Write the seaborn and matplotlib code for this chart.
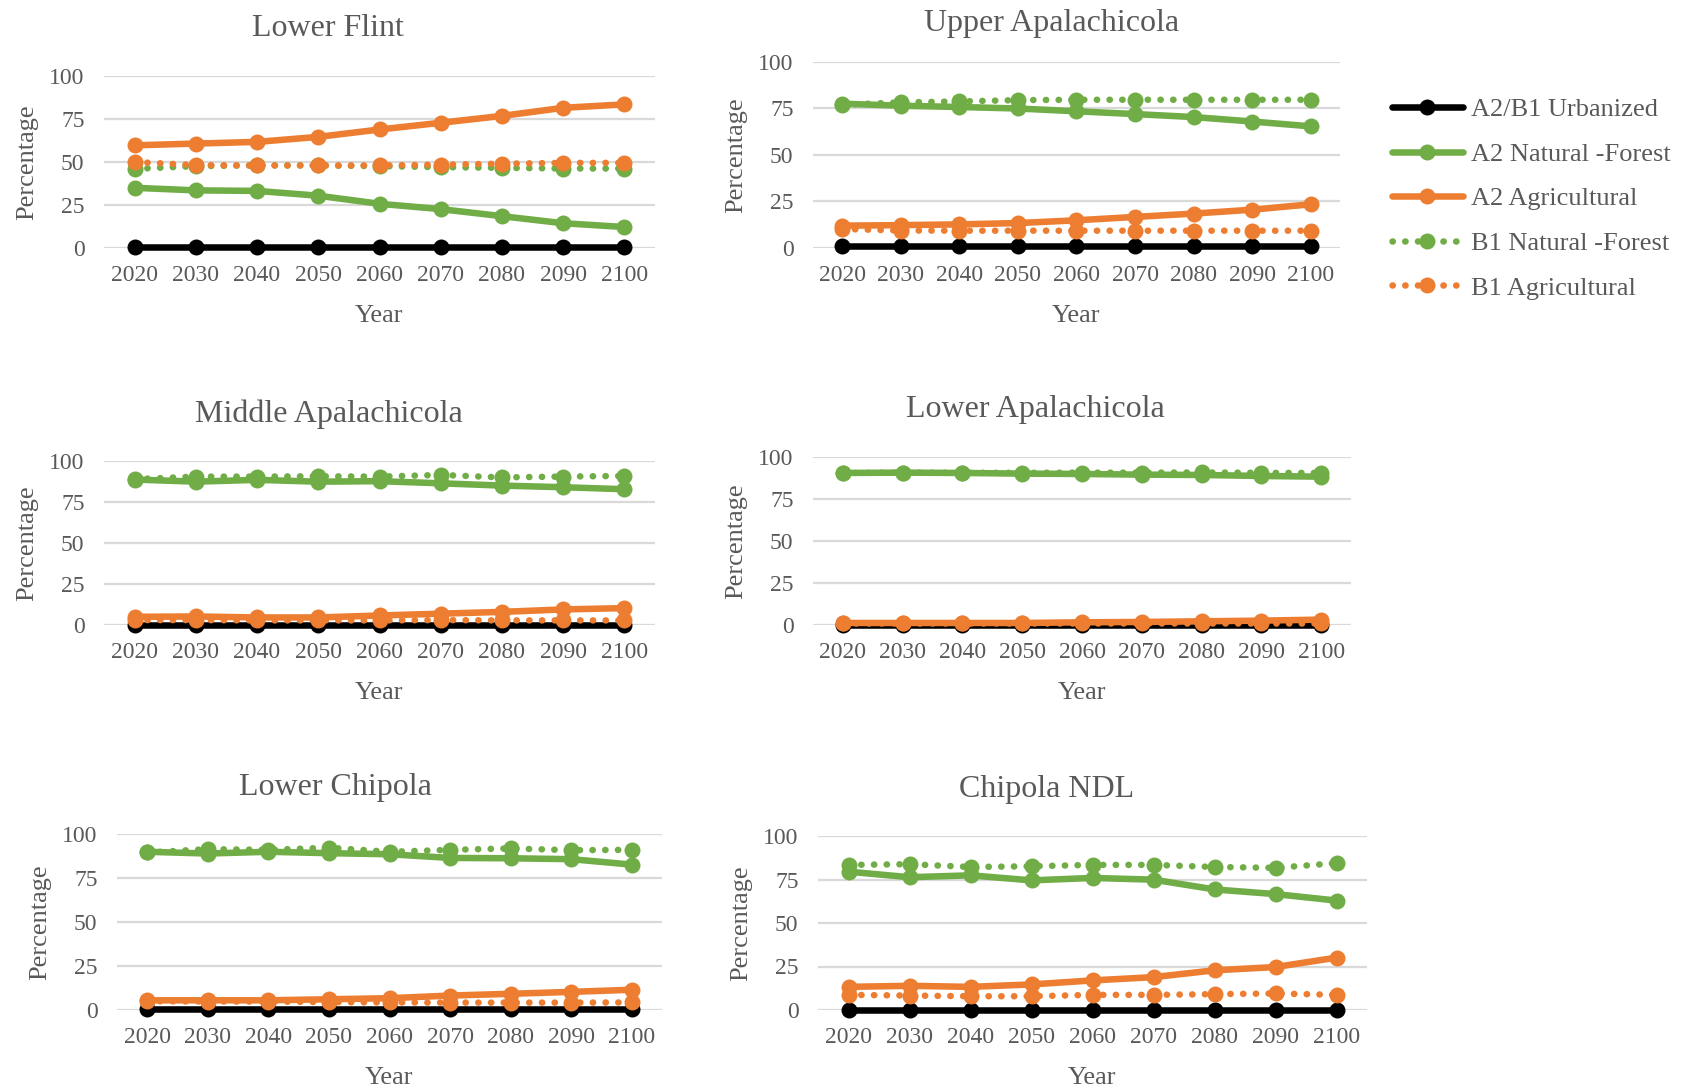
import matplotlib
matplotlib.use("Agg")
import matplotlib.pyplot as plt
import seaborn as sns
import pandas as pd

sns.set_theme(style="white")
plt.rcParams["font.family"] = ["Liberation Serif", "DejaVu Serif"]

years = [2020, 2030, 2040, 2050, 2060, 2070, 2080, 2090, 2100]
year_labels = [str(y) for y in years]
yticks = [0, 25, 50, 75, 100]

series_names = ["A2/B1 Urbanized", "A2 Natural -Forest", "A2 Agricultural",
                "B1 Natural -Forest", "B1 Agricultural"]

# Lower Flint
lf_urban = [0.5, 0.5, 0.5, 0.5, 0.5, 0.5, 0.5, 0.5, 0.5]
lf_a2_forest = [35.0, 33.5, 33.2, 30.4, 25.7, 22.6, 18.5, 14.4, 12.2]
lf_a2_agri = [59.7, 60.7, 61.7, 64.6, 68.9, 72.8, 76.8, 81.5, 83.5]
lf_b1_forest = [46.0, 47.6, 48.0, 48.0, 47.6, 47.0, 46.6, 46.2, 46.2]
lf_b1_agri = [50.0, 48.2, 48.0, 48.0, 48.0, 48.5, 49.0, 49.5, 49.5]

# Upper Apalachicola
ua_urban = [1.0, 1.0, 1.0, 1.0, 1.0, 1.0, 1.0, 1.0, 1.0]
ua_a2_forest = [77.6, 76.5, 75.8, 75.0, 73.5, 72.0, 70.4, 68.0, 65.4]
ua_a2_agri = [12.0, 12.3, 12.7, 13.4, 14.9, 16.7, 18.5, 20.6, 23.5]
ua_b1_forest = [77.0, 78.3, 78.8, 79.5, 79.7, 79.7, 79.7, 79.7, 79.7]
ua_b1_agri = [10.2, 9.4, 9.3, 9.3, 9.3, 9.3, 9.3, 9.3, 9.3]

# Middle Apalachicola
ma_urban = [0.2, 0.2, 0.2, 0.2, 0.2, 0.2, 0.2, 0.2, 0.2]
ma_a2_forest = [88.7, 87.4, 88.5, 87.4, 87.7, 86.4, 85.0, 84.0, 82.8]
ma_a2_agri = [5.0, 5.2, 4.6, 4.6, 5.8, 6.9, 8.0, 9.5, 10.3]
ma_b1_forest = [88.9, 90.5, 90.5, 90.7, 90.5, 91.5, 90.0, 90.5, 90.9]
ma_b1_agri = [3.0, 3.0, 2.8, 2.8, 2.8, 3.0, 2.8, 2.8, 2.8]

# Lower Apalachicola
la_urban = [0.2, 0.2, 0.2, 0.2, 0.2, 0.2, 0.2, 0.2, 0.2]
la_a2_forest = [90.5, 90.7, 90.5, 90.1, 89.9, 89.5, 89.3, 88.7, 88.3]
la_a2_agri = [1.2, 1.2, 1.2, 1.2, 1.6, 1.8, 2.2, 2.6, 3.2]
la_b1_forest = [90.5, 90.7, 90.6, 90.6, 90.7, 90.7, 90.8, 90.6, 90.5]
la_b1_agri = [1.0, 1.0, 1.0, 1.0, 1.0, 1.0, 1.0, 1.0, 1.0]

# Lower Chipola
lc_urban = [0.5, 0.5, 0.5, 0.5, 0.5, 0.5, 0.5, 0.5, 0.5]
lc_a2_forest = [89.9, 88.9, 89.9, 89.1, 88.5, 86.4, 86.2, 85.7, 82.6]
lc_a2_agri = [5.5, 5.5, 5.5, 6.1, 6.7, 8.2, 9.2, 10.3, 11.5]
lc_b1_forest = [89.5, 91.4, 91.0, 92.2, 89.9, 91.0, 91.8, 90.8, 91.0]
lc_b1_agri = [5.0, 4.8, 4.8, 4.5, 4.3, 4.2, 4.2, 4.2, 4.3]

# Chipola NDL
cn_urban = [0.0, 0.0, 0.0, 0.0, 0.0, 0.0, 0.0, 0.0, 0.0]
cn_a2_forest = [79.5, 76.3, 77.4, 74.5, 75.9, 74.9, 69.3, 66.6, 62.9]
cn_a2_agri = [13.3, 13.9, 13.3, 14.7, 17.0, 18.9, 22.8, 24.7, 30.1]
cn_b1_forest = [83.4, 83.8, 82.2, 82.6, 83.4, 83.4, 82.2, 81.7, 84.4]
cn_b1_agri = [8.7, 8.3, 7.9, 7.9, 8.7, 8.7, 9.1, 9.5, 8.7]

panels = [
    ("Lower Flint", [lf_urban, lf_a2_forest, lf_a2_agri, lf_b1_forest, lf_b1_agri]),
    ("Upper Apalachicola", [ua_urban, ua_a2_forest, ua_a2_agri, ua_b1_forest, ua_b1_agri]),
    ("Middle Apalachicola", [ma_urban, ma_a2_forest, ma_a2_agri, ma_b1_forest, ma_b1_agri]),
    ("Lower Apalachicola", [la_urban, la_a2_forest, la_a2_agri, la_b1_forest, la_b1_agri]),
    ("Lower Chipola", [lc_urban, lc_a2_forest, lc_a2_agri, lc_b1_forest, lc_b1_agri]),
    ("Chipola NDL", [cn_urban, cn_a2_forest, cn_a2_agri, cn_b1_forest, cn_b1_agri]),
]

colors = ["#000000", "#70AD47", "#ED7D31", "#70AD47", "#ED7D31"]
dotted = [False, False, False, True, True]

TEXT = "#595959"
GRID = "#D9D9D9"

W, H = 1688, 1089
# axes boxes in pixels: left, right, top(=100 line), bottom(=0 line)
boxes = [
    (104, 655, 76, 248),
    (813, 1340, 62, 248),
    (104, 655, 461, 625),
    (813, 1351, 457, 625),
    (117, 662, 834, 1010),
    (818, 1367, 836, 1010),
]
# chart titles are centred over each whole chart block (pixels)
title_pos = [(328, 29), (1052, 23), (329, 414), (1035, 410), (335, 788), (1047, 790)]

fig = plt.figure(figsize=(W / 100, H / 100), dpi=100)
fig.patch.set_facecolor("white")

legend_handles = None
for (title, values), (l, r, t, b), (tx, ty) in zip(panels, boxes, title_pos):
    ax = fig.add_axes([l / W, 1 - b / H, (r - l) / W, (b - t) / H])
    idx = list(range(len(years)))
    for name, vals, col, dot in zip(series_names, values, colors, dotted):
        df = pd.DataFrame({"pos": idx, "value": vals})
        sns.lineplot(data=df, x="pos", y="value", ax=ax, color=col,
                     marker="o", markersize=11.5, markeredgewidth=0,
                     linewidth=4.7, label=name, clip_on=False,
                     linestyle=(0, (0.05, 1.9)) if dot else "-",
                     dash_capstyle="round", solid_capstyle="round",
                     estimator=None, sort=False)
    ax.set_xlim(-0.5, len(years) - 0.5)
    ax.set_ylim(0, 100)
    ax.set_xticks(idx)
    ax.set_xticklabels(year_labels)
    ax.set_yticks(yticks)
    ax.set_yticklabels([str(v) for v in yticks])
    ax.tick_params(axis="both", length=0, labelsize=17, colors=TEXT)
    ax.tick_params(axis="x", pad=12)
    ax.tick_params(axis="y", pad=14)
    ax.grid(axis="y", color=GRID, linewidth=1.6)
    ax.set_axisbelow(True)
    for s in ax.spines.values():
        s.set_visible(False)
    ax.set_xlabel("Year", fontsize=19, color=TEXT, labelpad=14)
    ax.set_ylabel("Percentage", fontsize=19, color=TEXT, labelpad=8)
    fig.text(tx / W, 1 - ty / H, title, fontsize=23, color=TEXT,
             ha="center", va="center")
    if legend_handles is None:
        legend_handles = ax.get_legend_handles_labels()
    if ax.get_legend() is not None:
        ax.get_legend().remove()

handles, labels = legend_handles
fig.legend(handles, labels, loc="upper left",
           bbox_to_anchor=(1368 / W, 1 - 74 / H),
           frameon=False, fontsize=19, labelcolor=TEXT,
           handlelength=2.7, handletextpad=0.3, labelspacing=0.8)

fig.savefig("out.png", dpi=100, facecolor="white")
